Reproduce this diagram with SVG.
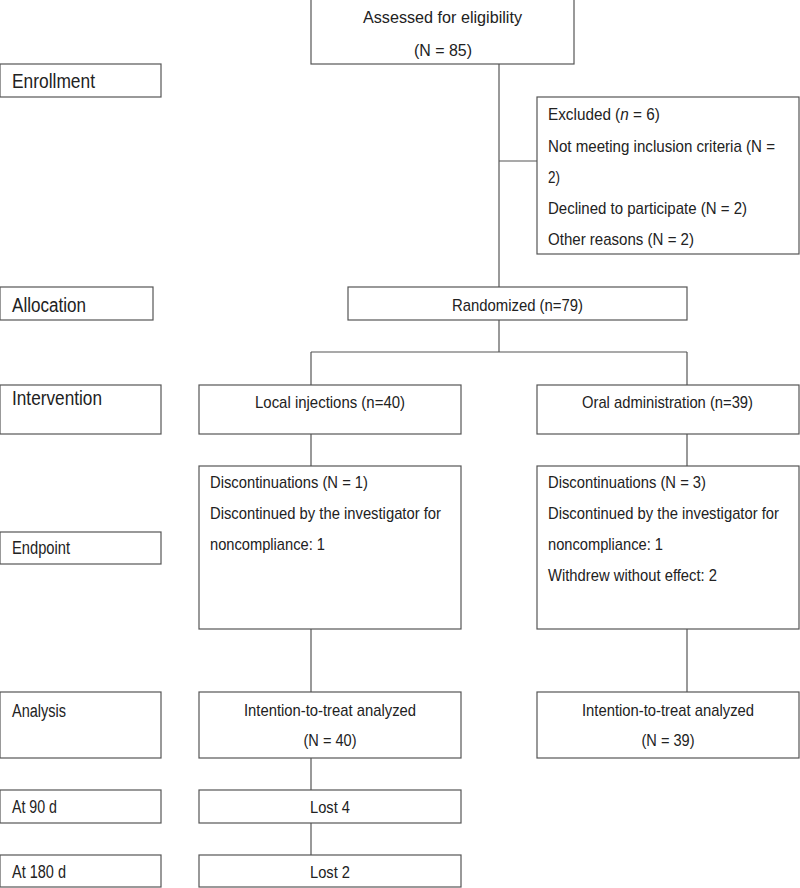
<svg xmlns="http://www.w3.org/2000/svg" width="800" height="888" viewBox="0 0 800 888">
<style>
rect{fill:#fff;stroke:#555;stroke-width:1.2}
text{font-family:"Liberation Sans",Arial,sans-serif;font-size:17px;fill:#222}
.c{text-anchor:middle}
.big{font-size:19.5px}
.lab{font-size:18px}
#connectors line{stroke:#555;stroke-width:1.2}
</style>
<rect x="0" y="0" width="800" height="888" style="stroke:none"/>
<g id="connectors">
<line x1="499" y1="64" x2="499" y2="288"/>
<line x1="499" y1="161" x2="537" y2="161"/>
<line x1="499" y1="320" x2="499" y2="352"/>
<line x1="311" y1="352" x2="687" y2="352"/>
<line x1="311" y1="352" x2="311" y2="385"/>
<line x1="687" y1="352" x2="687" y2="385"/>
<line x1="311" y1="434" x2="311" y2="466"/>
<line x1="687" y1="434" x2="687" y2="466"/>
<line x1="311" y1="629" x2="311" y2="692"/>
<line x1="687" y1="629" x2="687" y2="692"/>
<line x1="311" y1="758" x2="311" y2="790"/>
<line x1="311" y1="823" x2="311" y2="855"/>
</g>
<g id="assessed"><rect x="311" y="-1" width="263" height="65"/><text class="c" x="442.5" y="23" textLength="159" lengthAdjust="spacingAndGlyphs">Assessed for eligibility</text><text class="c" x="443" y="56" textLength="58" lengthAdjust="spacingAndGlyphs">(N = 85)</text></g>
<g id="enrollment"><rect x="0" y="64" width="161" height="33"/><text class="big" x="12" y="88" textLength="83" lengthAdjust="spacingAndGlyphs">Enrollment</text></g>
<g id="excluded"><rect x="537" y="97" width="262" height="157"/>
<text transform="translate(548,120) scale(0.9,1)" x="0" y="0">Excluded (<tspan font-style="italic">n</tspan> = 6)</text>
<text transform="translate(548,152) scale(0.89,1)" x="0" y="0" textLength="255" lengthAdjust="spacingAndGlyphs">Not meeting inclusion criteria (N =</text>
<text x="548" y="183" textLength="12" lengthAdjust="spacingAndGlyphs">2)</text>
<text x="548" y="214" textLength="199" lengthAdjust="spacingAndGlyphs">Declined to participate (N = 2)</text>
<text x="548" y="245" textLength="146" lengthAdjust="spacingAndGlyphs">Other reasons (N = 2)</text></g>
<g id="allocation"><rect x="0" y="287" width="153" height="33"/><text class="big" x="12" y="312" textLength="74" lengthAdjust="spacingAndGlyphs">Allocation</text></g>
<g id="randomized"><rect x="348" y="287" width="339" height="33"/><text class="c" x="517.5" y="311" textLength="131" lengthAdjust="spacingAndGlyphs">Randomized (n=79)</text></g>
<g id="intervention"><rect x="0" y="385" width="161" height="49"/><text class="big" x="12" y="405" textLength="90" lengthAdjust="spacingAndGlyphs">Intervention</text></g>
<g id="local"><rect x="199" y="385" width="262" height="49"/><text class="c" x="330" y="408" textLength="150" lengthAdjust="spacingAndGlyphs">Local injections (n=40)</text></g>
<g id="oral"><rect x="537" y="385" width="262" height="49"/><text class="c" x="667.5" y="408" textLength="171" lengthAdjust="spacingAndGlyphs">Oral administration (n=39)</text></g>
<g id="endpoint"><rect x="0" y="532" width="161" height="32"/><text class="lab" x="12" y="554" textLength="58" lengthAdjust="spacingAndGlyphs">Endpoint</text></g>
<g id="disc-left"><rect x="199" y="466" width="262" height="163"/>
<text x="210" y="488" textLength="158" lengthAdjust="spacingAndGlyphs">Discontinuations (N = 1)</text>
<text transform="translate(210,519) scale(0.87,1)" x="0" y="0" textLength="265.5" lengthAdjust="spacingAndGlyphs">Discontinued by the investigator for</text>
<text x="210" y="550" textLength="115" lengthAdjust="spacingAndGlyphs">noncompliance: 1</text></g>
<g id="disc-right"><rect x="537" y="466" width="262" height="163"/>
<text x="548" y="488" textLength="158" lengthAdjust="spacingAndGlyphs">Discontinuations (N = 3)</text>
<text transform="translate(548,519) scale(0.87,1)" x="0" y="0" textLength="265.5" lengthAdjust="spacingAndGlyphs">Discontinued by the investigator for</text>
<text x="548" y="550" textLength="115" lengthAdjust="spacingAndGlyphs">noncompliance: 1</text>
<text x="548" y="581" textLength="169" lengthAdjust="spacingAndGlyphs">Withdrew without effect: 2</text></g>
<g id="analysis"><rect x="0" y="692" width="161" height="66"/><text class="lab" x="12" y="717" textLength="54" lengthAdjust="spacingAndGlyphs">Analysis</text></g>
<g id="itt-left"><rect x="199" y="692" width="262" height="66"/><text class="c" x="330" y="716" textLength="172" lengthAdjust="spacingAndGlyphs">Intention-to-treat analyzed</text><text class="c" x="330" y="746" textLength="53" lengthAdjust="spacingAndGlyphs">(N = 40)</text></g>
<g id="itt-right"><rect x="537" y="692" width="262" height="66"/><text class="c" x="668" y="716" textLength="172" lengthAdjust="spacingAndGlyphs">Intention-to-treat analyzed</text><text class="c" x="668" y="746" textLength="53" lengthAdjust="spacingAndGlyphs">(N = 39)</text></g>
<g id="d90"><rect x="0" y="790" width="161" height="33"/><text class="lab" x="12" y="813" textLength="45" lengthAdjust="spacingAndGlyphs">At 90 d</text></g>
<g id="lost4"><rect x="199" y="790" width="262" height="33"/><text class="c" x="330" y="813" textLength="40" lengthAdjust="spacingAndGlyphs">Lost 4</text></g>
<g id="d180"><rect x="0" y="855" width="161" height="32"/><text class="lab" x="12" y="878" textLength="54" lengthAdjust="spacingAndGlyphs">At 180 d</text></g>
<g id="lost2"><rect x="199" y="855" width="262" height="32"/><text class="c" x="330" y="878" textLength="40" lengthAdjust="spacingAndGlyphs">Lost 2</text></g>
</svg>
